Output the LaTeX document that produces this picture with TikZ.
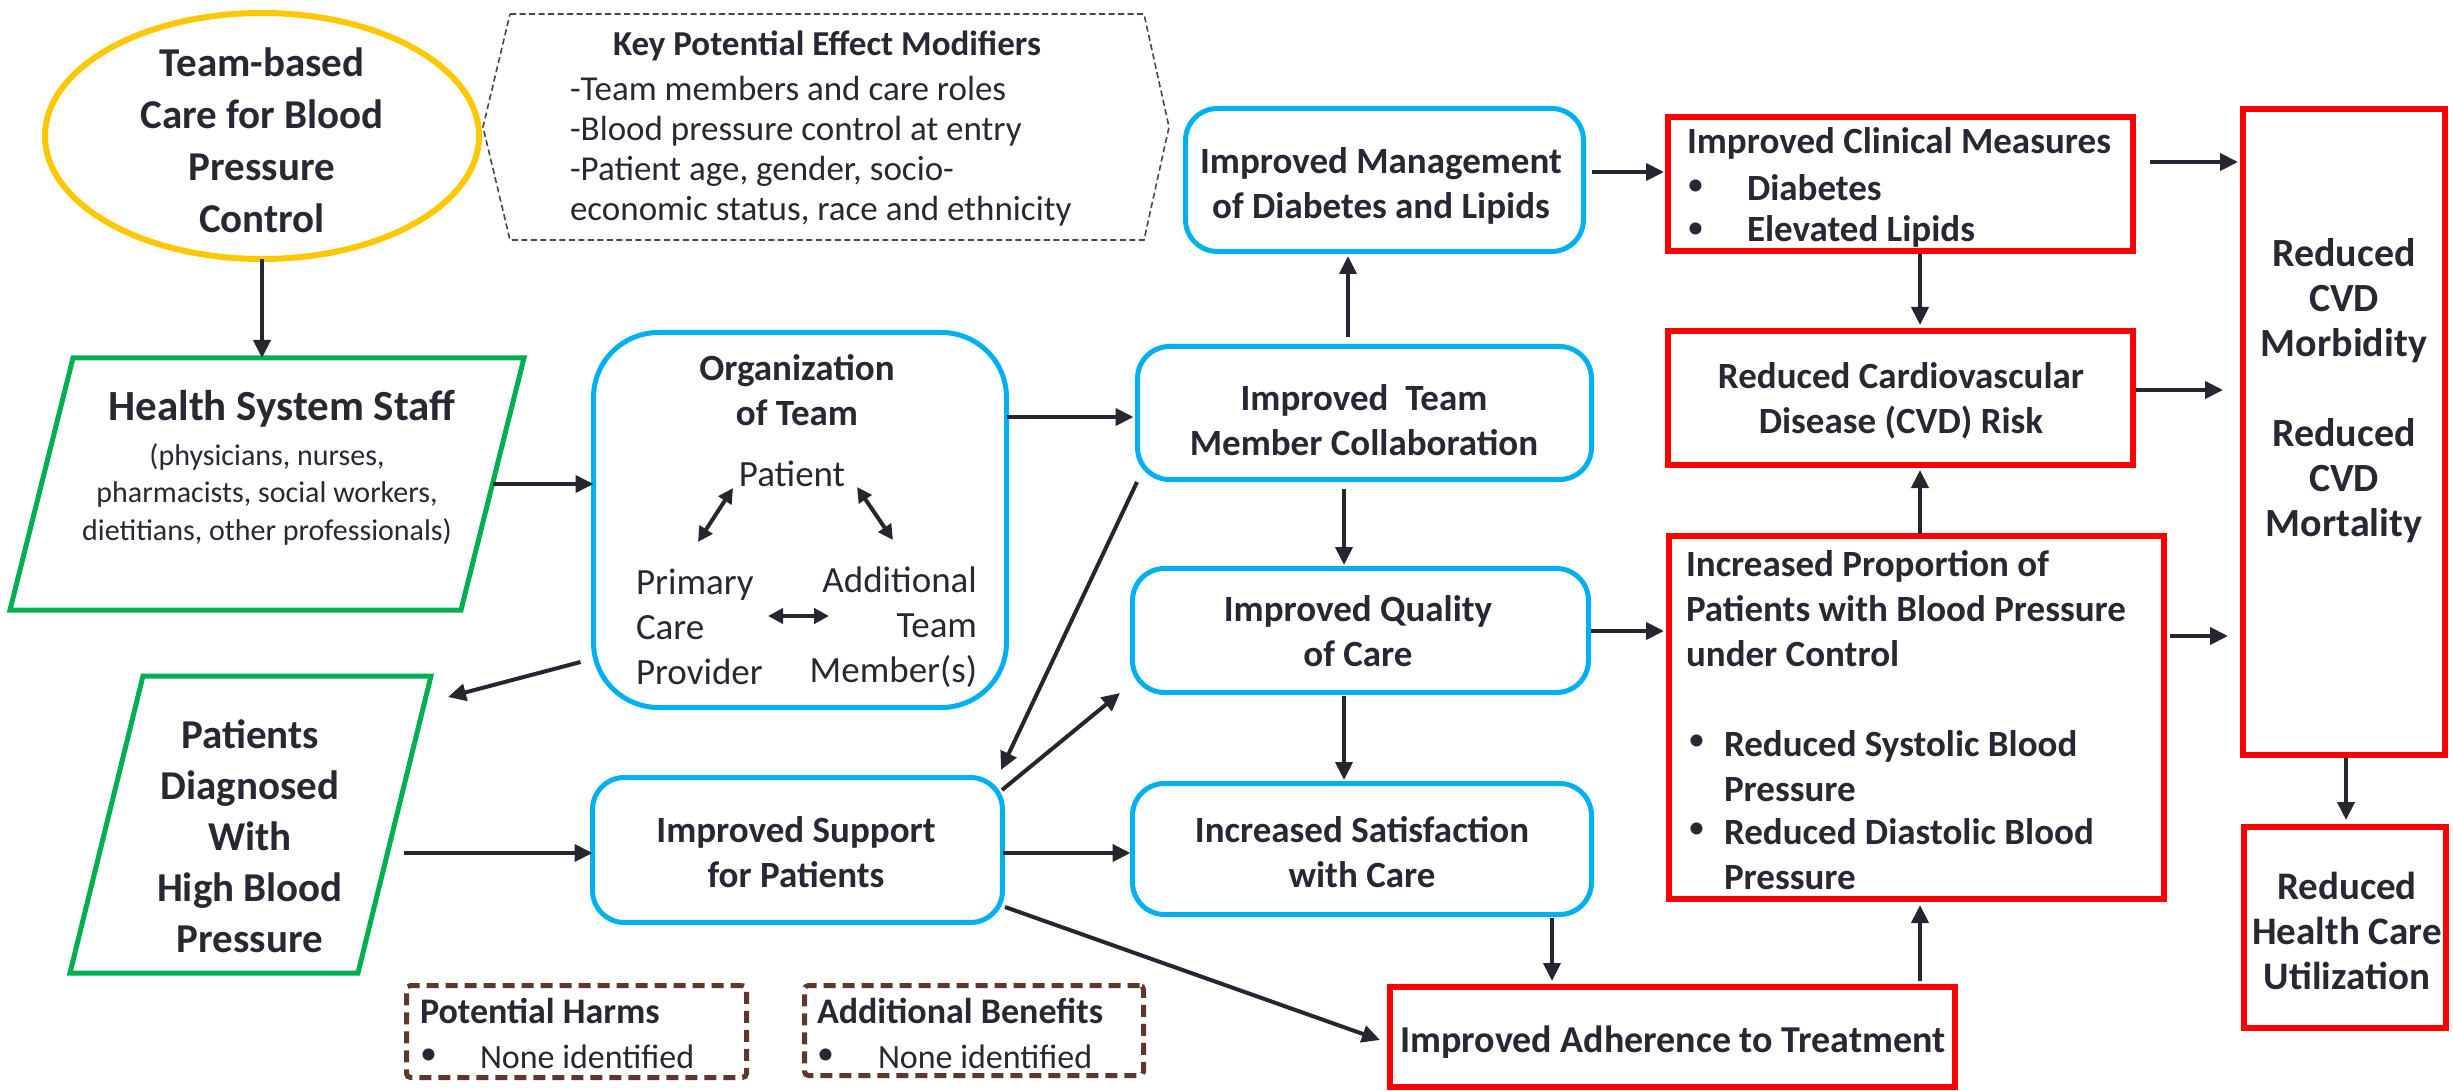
\documentclass[tikz,border=0pt]{standalone}
\usepackage{fontspec}
\setmainfont{Carlito}
\usetikzlibrary{arrows.meta,shapes.geometric}
\definecolor{txt}{RGB}{40,40,52}
\definecolor{cyanb}{RGB}{0,176,240}
\definecolor{redb}{RGB}{255,0,0}
\definecolor{greenb}{RGB}{0,176,80}
\definecolor{yellowb}{RGB}{255,200,0}
\definecolor{brownb}{RGB}{94,56,46}
\definecolor{arrc}{RGB}{38,38,48}
\definecolor{hexc}{RGB}{70,70,80}
\begin{document}
\begin{tikzpicture}[x=1pt,y=-1pt,
  every node/.style={inner sep=0pt, outer sep=0pt, text=txt},
  bbox/.style={draw=cyanb, line width=5pt, rounded corners=32pt},
  rbox/.style={draw=redb, line width=6pt},
  dbox/.style={draw=brownb, line width=5pt, dash pattern=on 12pt off 7pt, rounded corners=4pt},
  ghost/.style={draw=none},
  arr/.style={draw=arrc, line width=4pt, -{Triangle[length=18pt,width=17pt]}},
  darr/.style={draw=arrc, line width=4pt, {Triangle[length=15pt,width=15pt]}-{Triangle[length=15pt,width=15pt]}},
  bt/.style={font=\fontsize{37}{45}\selectfont\bfseries, align=center},
  bl/.style={font=\fontsize{37}{45}\selectfont\bfseries, align=left, anchor=west},
  rt/.style={font=\fontsize{37}{45}\selectfont},
]
\useasboundingbox (0,0) rectangle (2453,1091);
\fill[white] (0,0) rectangle (2453,1091);

% ---------- Team-based care ellipse
\node[draw=yellowb, line width=6pt, ellipse, minimum width=434pt, minimum height=246pt] (team) at (262,136) {};
\node[font=\fontsize{41}{52}\selectfont\bfseries, align=center] (teamt) at (262,140) {Team-based\\Care for Blood\\Pressure\\Control};

% ---------- Key modifiers hexagon
\draw[hexc, line width=1.6pt, dash pattern=on 6pt off 3.5pt] (510,14) -- (1144,14) -- (1169,127) -- (1144,240) -- (510,240) -- (483,127) -- cycle;
\node[font=\fontsize{35}{40}\selectfont\bfseries] (modt) at (827,46) {Key Potential Effect Modifiers};
\node[font=\fontsize{35}{40}\selectfont, align=left, anchor=west] (modl) at (570,151) {-Team members and care roles\\-Blood pressure control at entry\\-Patient age, gender, socio-\\economic status, race and ethnicity};

% ---------- Health System Staff
\draw[greenb, line width=5pt] (73,358) -- (524,358) -- (461,610) -- (10,610) -- cycle;
\node[ghost, minimum width=451pt, minimum height=252pt] (hss) at (267,484) {};
\node[font=\fontsize{43}{48}\selectfont\bfseries] (hsst) at (282,409) {Health System Staff};
\node[font=\fontsize{30}{37.5}\selectfont, align=center] (hsss) at (267,494) {(physicians, nurses,\\pharmacists, social workers,\\dietitians, other professionals)};

% ---------- Patients diagnosed
\draw[greenb, line width=5pt] (143,676) -- (431,676) -- (358,973) -- (70,973) -- cycle;
\node[ghost, minimum width=288pt, minimum height=297pt] (pat) at (250.5,824.5) {};
\node[font=\fontsize{41}{51}\selectfont\bfseries, align=center] (patt) at (250,836) {Patients\\Diagnosed\\With\\High Blood\\Pressure};

% ---------- Organization of team
\node[bbox, rounded corners=65pt, minimum width=413pt, minimum height=375pt] (org) at (800,520) {};
\node[font=\fontsize{37}{45}\selectfont\bfseries, align=center] (orgt) at (797,390) {Organization\\of Team};
\node[rt] (pt) at (792,474) {Patient};
\node[rt, align=left, anchor=west] (pcp) at (636,627) {Primary\\Care\\Provider};
\node[rt, align=right, anchor=east] (atm) at (977,627) {Additional\\Team\\Member(s)};
\draw[darr] (733,488) -- (698,542);
\draw[darr] (857,487) -- (893,540);
\draw[darr] (768,616) -- (829,616);

% ---------- Blue boxes
\node[bbox, minimum width=454pt, minimum height=133pt] (collab) at (1364.5,413) {};
\node[bt] (collabt) at (1364,420) {Improved~ Team\\Member Collaboration};
\node[bbox, minimum width=398pt, minimum height=143pt] (mgmt) at (1384.5,180) {};
\node[bt] (mgmtt) at (1381,186) {Improved Management\\of Diabetes and Lipids};
\node[bbox, minimum width=456pt, minimum height=124pt] (qual) at (1360.5,630.5) {};
\node[bt] (qualt) at (1358,631) {Improved Quality\\of Care};
\node[bbox, minimum width=459pt, minimum height=131pt] (sat) at (1362,849) {};
\node[bt] (satt) at (1362,852) {Increased Satisfaction\\with Care};
\node[bbox, minimum width=410pt, minimum height=145pt] (sup) at (797.5,850) {};
\node[bt] (supt) at (796,852) {Improved Support\\for Patients};

% ---------- Red boxes
\node[rbox, minimum width=465pt, minimum height=134pt] (clin) at (1900.5,184) {};
\node[bl] (clint) at (1687,143) {Improved Clinical Measures};
\node[bl, font=\fontsize{34}{45}\selectfont] (clinb1) at (1687,188) {•};
\node[bl] (clin1) at (1747,188) {Diabetes};
\node[bl, font=\fontsize{34}{45}\selectfont] (clinb2) at (1687,231) {•};
\node[bl] (clin2) at (1747,231) {Elevated Lipids};

\node[rbox, minimum width=465pt, minimum height=134pt] (cvd) at (1900.5,398) {};
\node[bt] (cvdt) at (1901,401) {Reduced Cardiovascular\\Disease (CVD) Risk};

\node[rbox, minimum width=495pt, minimum height=363pt] (bp) at (1916.5,717.5) {};
\node[bl] (bpt) at (1686,609) {Increased Proportion of\\Patients with Blood Pressure\\under Control};
\node[bl, font=\fontsize{34}{45}\selectfont] (bpb1) at (1688,743) {•};
\node[bl] (bp1) at (1724,766) {Reduced Systolic Blood\\Pressure};
\node[bl, font=\fontsize{34}{45}\selectfont] (bpb2) at (1688,831) {•};
\node[bl] (bp2) at (1724,854) {Reduced Diastolic Blood\\Pressure};

\node[rbox, minimum width=202pt, minimum height=646pt] (morb) at (2344,432) {};
\node[bt, font=\fontsize{40}{45}\selectfont\bfseries] (morbt) at (2344,391) {Reduced\\CVD\\Morbidity\\[45pt]Reduced\\CVD\\Mortality};

\node[rbox, minimum width=202pt, minimum height=201pt] (util) at (2345,927.5) {};
\node[bt, font=\fontsize{39}{45}\selectfont\bfseries] (utilt) at (2347,931) {Reduced\\Health Care\\Utilization};

\node[rbox, minimum width=565pt, minimum height=100pt] (adh) at (1672.5,1037) {};
\node[bt, font=\fontsize{38}{45}\selectfont\bfseries] (adht) at (1673,1042) {Improved Adherence to Treatment};

% ---------- Harms / benefits
\node[dbox, minimum width=340pt, minimum height=92pt] (harm) at (576.5,1031.5) {};
\node[bl, font=\fontsize{36}{45}\selectfont\bfseries] (harmt) at (420,1011) {Potential Harms};
\node[bl, font=\fontsize{34}{45}\selectfont] (harmb) at (420,1057) {•};
\node[bl, font=\fontsize{34}{45}\selectfont] (harm1) at (480,1057) {None identified};
\node[dbox, minimum width=339pt, minimum height=90pt] (ben) at (974,1030.5) {};
\node[bl, font=\fontsize{36}{45}\selectfont\bfseries] (bent) at (817,1011) {Additional Benefits};
\node[bl, font=\fontsize{34}{45}\selectfont] (benb) at (817,1057) {•};
\node[bl, font=\fontsize{34}{45}\selectfont] (ben1) at (878,1057) {None identified};

% ---------- Connectors
\draw[arr] (team.south) -- (team.south |- hss.north);
\draw[arr] (hss.east) -- (org.west |- hss.east);
\draw[arr] (org.west |- 0,662) ++(-13,0) -- (448,697);
\draw[arr] (404,853) -- (sup.west |- 0,853);
\draw[arr] (org.east |- 0,417) -- ([xshift=-4pt]collab.west |- 0,417);
\draw[arr] (1137,482) -- (1001,770);
\draw[arr] (1002,790) -- (1120,693);
\draw[arr] (sup.east |- 0,853) -- ([xshift=-2pt]sat.west |- 0,853);
\draw[arr] (1005,907) -- (1380,1040);
\draw[arr] (1348,337) -- (1348,256);
\draw[arr] (1344,489) -- (1344,565);
\draw[arr] (1344,696) -- (1344,780);
\draw[arr] (1552,918) -- (1552,981);
\draw[arr] (1920,981) -- (1920,905);
\draw[arr] (1592,172) -- (1664,172);
\draw[arr] (1920,254) -- (1920,325);
\draw[arr] (1920,534) -- (1920,470);
\draw[arr] (2150,162) -- (2238,162);
\draw[arr] (2136,390) -- (2223,390);
\draw[arr] (1591,631) -- (1664,631);
\draw[arr] (2170,636) -- (2228,636);
\draw[arr] (2346,758) -- (2346,820);
\end{tikzpicture}
\end{document}
